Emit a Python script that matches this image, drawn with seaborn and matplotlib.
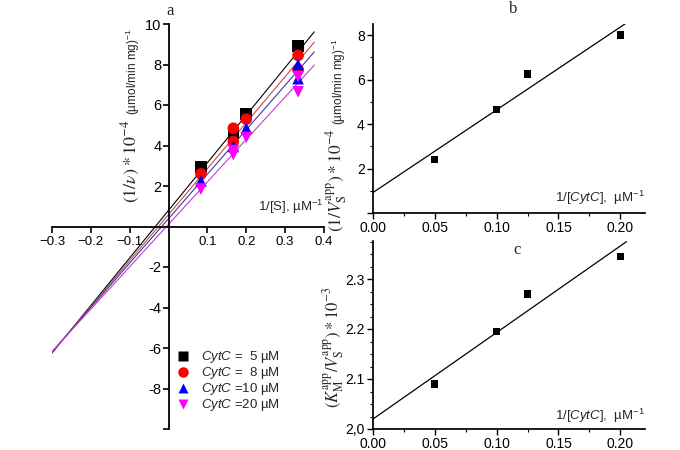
import numpy as np
import pandas as pd
import matplotlib
matplotlib.use("Agg")
import matplotlib.pyplot as plt
from matplotlib.ticker import MultipleLocator, FixedLocator
import seaborn as sns

sns.set_theme(style="ticks")
plt.rcParams['font.family'] = ['Liberation Sans', 'DejaVu Sans']
plt.rcParams['mathtext.fontset'] = 'custom'
plt.rcParams['mathtext.rm'] = 'Liberation Sans'
plt.rcParams['mathtext.it'] = 'Liberation Sans:italic'
plt.rcParams['mathtext.bf'] = 'Liberation Sans:bold'
plt.rcParams['axes.edgecolor'] = 'black'
plt.rcParams['xtick.color'] = 'black'
plt.rcParams['ytick.color'] = 'black'

# ── data: panel a (Lineweaver-Burk) ───────────────────────
SERIES_LABELS = [r"$\it{CytC}$ =  5 µM", r"$\it{CytC}$ =  8 µM",
                 r"$\it{CytC}$ =10 µM", r"$\it{CytC}$ =20 µM"]
A_X_5  = [1/12, 1/6, 1/5, 1/3]
A_Y_5  = [2.95, 4.60, 5.55, 8.90]
A_X_8  = [1/12, 1/6, 1/6, 1/5, 1/3, 1/3]
A_Y_8  = [2.60, 4.85, 4.20, 5.30, 8.45, 7.75]
A_X_10 = [1/12, 1/6, 1/5, 1/3, 1/3]
A_Y_10 = [2.25, 3.95, 4.85, 8.00, 7.30]
A_X_20 = [1/12, 1/6, 1/6, 1/5, 1/3, 1/3]
A_Y_20 = [1.85, 3.75, 3.55, 4.40, 7.40, 6.65]
A_SLOPE     = [23.5, 22.7, 21.95, 20.95]
A_INTERCEPT = [0.80, 0.59, 0.39, 0.11]
A_FIT_RANGE = [-0.3, 0.375]

# ── data: panels b, c (secondary plots) ───────────────────
CYT_INV = [0.05, 0.10, 0.125, 0.20]
B_Y     = [2.40, 4.65, 6.25, 8.00]
B_FIT   = [37.2, 0.92]      # slope, intercept
B_RANGE = [0.0, 0.204]
C_Y     = [2.09, 2.195, 2.27, 2.345]
C_FIT   = [1.73, 2.02]
C_RANGE = [0.0, 0.205]

POINT_COLORS = ["black", "#ff0000", "#0000ff", "#ff00ff"]
LINE_COLORS  = ["black", "#c0504d", "#3a3aa8", "#c040d0"]
MARKERS      = ["s", "o", "^", "v"]

df_a = pd.concat([
    pd.DataFrame({"x": xs, "y": ys, "series": lab})
    for xs, ys, lab in zip([A_X_5, A_X_8, A_X_10, A_X_20],
                           [A_Y_5, A_Y_8, A_Y_10, A_Y_20], SERIES_LABELS)
], ignore_index=True)

W, H = 680, 450
fig = plt.figure(figsize=(6.8, 4.5), dpi=100)

def fig_box(x0, y0, x1, y1):
    return [x0 / W, 1 - y1 / H, (x1 - x0) / W, (y1 - y0) / H]

# ── panel a ───────────────────────────────────────────────
ax = fig.add_axes(fig_box(52, 24, 324, 429))
for s, b, c in zip(A_SLOPE, A_INTERCEPT, LINE_COLORS):
    xx = np.array(A_FIT_RANGE)
    ax.plot(xx, s * xx + b, color=c, lw=0.8, zorder=1)
sns.scatterplot(data=df_a, x="x", y="y", hue="series", style="series",
                palette=dict(zip(SERIES_LABELS, POINT_COLORS)),
                markers=dict(zip(SERIES_LABELS, MARKERS)),
                s=70, edgecolor="none", ax=ax, zorder=3)
ax.set_xlim(-0.3, 0.4)
ax.set_ylim(-10, 10)
ax.spines['left'].set_position('zero')
ax.spines['bottom'].set_position('zero')
ax.spines['top'].set_visible(False)
ax.spines['right'].set_visible(False)
for sp in ['left', 'bottom']:
    ax.spines[sp].set_linewidth(1.3)
ax.xaxis.set_major_locator(FixedLocator([-0.3, -0.2, -0.1, 0.1, 0.2, 0.3, 0.4]))
ax.yaxis.set_major_locator(FixedLocator([-10, -8, -6, -4, -2, 2, 4, 6, 8, 10]))
ax.set_yticklabels(["", "-8", "-6", "-4", "-2", "2", "4", "6", "8", "10"])
ax.tick_params(axis='x', labelsize=9.5, length=4, width=1.2, pad=3)
ax.tick_params(axis='y', labelsize=10.5, length=4, width=1.2, pad=1)
ax.set_xlabel("")
ax.set_ylabel("")
ax.patch.set_alpha(0)
ax.text(0.4, 0.5, "1/[S], µM$^{-1}$", ha="right", va="bottom", fontsize=9.5)
sns.move_legend(ax, "upper left", bbox_to_anchor=(0.415, 0.21),
                frameon=False, title=None, fontsize=9.5, handletextpad=0.3,
                labelspacing=0.0, borderaxespad=0, markerscale=0.9)

fig.text(170 / W, 1 - 11 / H, "a", family="Liberation Serif", fontsize=12,
         ha="center", va="center")
fig.text(131 / W, 1 - 161 / H, r"$(1/\nu)*10^{-4}$", rotation=90,
         ha="center", va="center", fontsize=13, math_fontfamily="stix")
fig.text(133 / W, 1 - 72 / H, "(µmol/min mg)$^{-1}$", rotation=90,
         ha="center", va="center", fontsize=8.5)

# ── panels b, c ───────────────────────────────────────────
def secondary(box, ys, fit, rng, ylim, ymajor, yminor, ylabels, xlabel_y):
    axs = fig.add_axes(fig_box(*box))
    xx = np.array(rng)
    axs.plot(xx, fit[0] * xx + fit[1], color="black", lw=0.9, zorder=1)
    sns.scatterplot(x=CYT_INV, y=ys, marker="s", color="black", s=28,
                    edgecolor="none", ax=axs, zorder=3)
    axs.set_xlim(0, 0.22)
    axs.set_ylim(*ylim)
    axs.spines['top'].set_visible(False)
    axs.spines['right'].set_visible(False)
    axs.xaxis.set_major_locator(FixedLocator([0, 0.05, 0.10, 0.15, 0.20]))
    axs.xaxis.set_minor_locator(FixedLocator([0.025, 0.075, 0.125, 0.175]))
    axs.set_xticklabels(["0.00", "0.05", "0.10", "0.15", "0.20"])
    axs.yaxis.set_major_locator(FixedLocator(ymajor))
    axs.yaxis.set_minor_locator(MultipleLocator(yminor))
    axs.set_yticklabels(ylabels)
    axs.tick_params(which='major', labelsize=10, length=4, width=1.0, pad=2)
    axs.tick_params(which='minor', length=2, width=0.8)
    axs.text(0.22, xlabel_y, r"1/[$\it{CytC}$],  µM$^{-1}$", ha="right",
             va="bottom", fontsize=9.5)
    return axs

axb = secondary((373, 24, 645, 213), B_Y, B_FIT, B_RANGE, (0, 8.5),
                [0, 2, 4, 6, 8], 1, ["", "2", "4", "6", "8"], 0.25)
fig.text(513 / W, 1 - 9 / H, "b", family="Liberation Serif", fontsize=12,
         ha="center", va="center")
fig.text(337 / W, 1 - 180 / H, r"$(1/V_{\rm S}^{\rm app})*10^{-4}$",
         rotation=90, ha="center", va="center", fontsize=12.5,
         math_fontfamily="stix")
fig.text(339 / W, 1 - 82 / H, "(µmol/min mg)$^{-1}$", rotation=90,
         ha="center", va="center", fontsize=8.5)

axc = secondary((373, 241, 645, 429), C_Y, C_FIT, C_RANGE, (2.0, 2.376),
                [2.0, 2.1, 2.2, 2.3], 0.025, ["2,0", "2.1", "2.2", "2.3"],
                2.008)
fig.text(517 / W, 1 - 250 / H, "c", family="Liberation Serif", fontsize=12,
         ha="center", va="center")
fig.text(334 / W, 1 - 347 / H,
         r"$(K_{\rm M}^{\rm app}/V_{\rm S}^{\rm app})*10^{-3}$",
         rotation=90, ha="center", va="center", fontsize=12,
         math_fontfamily="stix")

fig.savefig("out.png", dpi=100, facecolor="white")
